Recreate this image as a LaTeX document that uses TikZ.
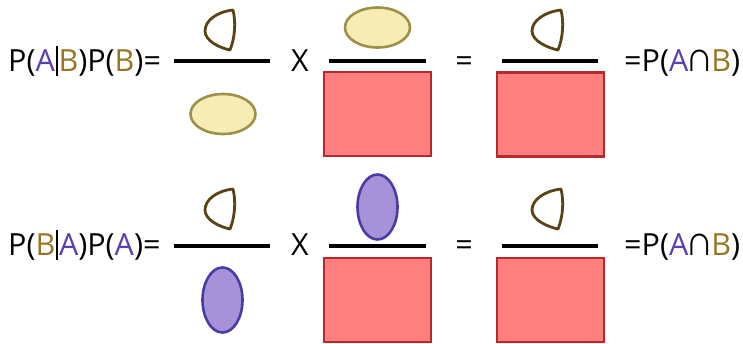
\documentclass[tikz,border=0pt]{standalone}
\usepackage{fontspec}
\setmainfont{Open Sans}
\newfontfamily\symfont{Liberation Sans}
\usepackage{xcolor}
\usetikzlibrary{positioning,shapes.geometric}
\definecolor{purpA}{HTML}{5B3FAE}
\definecolor{brownB}{HTML}{9A7424}
\definecolor{dropline}{HTML}{5A4317}
\definecolor{yellfill}{HTML}{F8ECB5}
\definecolor{yellline}{HTML}{9D9048}
\definecolor{violfill}{HTML}{A592D8}
\definecolor{violline}{HTML}{4B3BA2}
\definecolor{rectfill}{HTML}{FF7F7F}
\definecolor{rectline}{HTML}{B8292B}

\newcommand{\pA}{\textcolor{purpA}{A}}
\newcommand{\pB}{\textcolor{brownB}{B}}
\newcommand{\given}{\hspace{0.03em}\raisebox{-0.15em}{\rule{0.06em}{0.98em}}\hspace{0.03em}}
\newcommand{\capsym}{\kern-0.09em\scalebox{1.3}[1.4]{\symfont\char"2229}\kern-0.09em}

\begin{document}
\begin{tikzpicture}[
    x=1pt, y=-1pt,
    eqtext/.style={inner sep=0pt, anchor=base west, font=\fontsize{30.5}{36}\selectfont},
    optext/.style={inner sep=0pt, anchor=base, font=\fontsize{30.5}{36}\selectfont},
    bar/.style={line width=3.2pt, black},
    drop/.style={line width=2.8pt, dropline, line join=round},
    yellegg/.style={draw=yellline, fill=yellfill, ellipse, line width=2.6pt, inner sep=0pt, minimum width=65pt, minimum height=40pt},
    violegg/.style={draw=violline, fill=violfill, ellipse, line width=2.6pt, inner sep=0pt, minimum width=40pt, minimum height=65pt},
    redbox/.style={draw=rectline, fill=rectfill, line width=2.6pt, inner sep=0pt, minimum width=107pt, minimum height=84pt}
]
    \useasboundingbox (0,0) rectangle (743,343);

    % first row
    \node[eqtext] (lhsone) at (8,71) {P(\pA\given\pB)P(\pB)=};
    \coordinate (barone a) at (174,61);
    \coordinate (barone b) at (270,61);
    \draw[bar] (barone a) -- (barone b);
    \draw[drop] (233,10) .. controls (216,12) and (205,21) .. (205,31)
        .. controls (205,41) and (220,48) .. (230,50)
        .. controls (235,38) and (236,22) .. cycle;
    \node[yellegg] (yellow low) at (223,114) {};
    \node[optext] (times one) at (300,71) {X};
    \coordinate (bartwo a) at (329,61);
    \coordinate (bartwo b) at (426,61);
    \draw[bar] (bartwo a) -- (bartwo b);
    \node[yellegg] (yellow high) at (377.5,27.5) {};
    \node[redbox] (box one) at (377.5,114) {};
    \node[optext] (equal one) at (464,71) {=};
    \coordinate (barthree a) at (502,61);
    \coordinate (barthree b) at (598,61);
    \draw[bar] (barthree a) -- (barthree b);
    \draw[drop] (561,10) .. controls (544,12) and (532,21) .. (532,31)
        .. controls (532,41) and (548,48) .. (558,50)
        .. controls (563,38) and (564,22) .. cycle;
    \node[redbox] (box two) at (550.5,114.5) {};
    \node[eqtext] (rhsone) at (624,71) {=P(\pA\capsym\pB)};

    % second row
    \node[eqtext] (lhstwo) at (8,255) {P(\pB\given\pA)P(\pA)=};
    \coordinate (barfour a) at (174,246);
    \coordinate (barfour b) at (270,246);
    \draw[bar] (barfour a) -- (barfour b);
    \draw[drop] (233,189) .. controls (216,191) and (205,200) .. (205,210)
        .. controls (205,220) and (220,227) .. (230,229)
        .. controls (235,217) and (236,201) .. cycle;
    \node[violegg] (violet low) at (222.5,300) {};
    \node[optext] (times two) at (300,255) {X};
    \coordinate (barfive a) at (329,246);
    \coordinate (barfive b) at (426,246);
    \draw[bar] (barfive a) -- (barfive b);
    \node[violegg] (violet high) at (377.5,207) {};
    \node[redbox] (box three) at (377.5,300) {};
    \node[optext] (equal two) at (464,255) {=};
    \coordinate (barsix a) at (502,246);
    \coordinate (barsix b) at (598,246);
    \draw[bar] (barsix a) -- (barsix b);
    \draw[drop] (561,189) .. controls (544,191) and (532,200) .. (532,210)
        .. controls (532,220) and (548,227) .. (558,229)
        .. controls (563,217) and (564,201) .. cycle;
    \node[redbox] (box four) at (550.5,300) {};
    \node[eqtext] (rhstwo) at (624,255) {=P(\pA\capsym\pB)};
\end{tikzpicture}
\end{document}
